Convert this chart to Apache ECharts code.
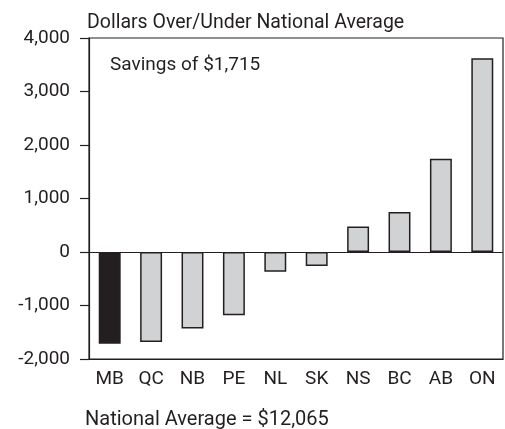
<!DOCTYPE html>
<html>
<head>
<meta charset="utf-8">
<script src="https://cdn.jsdelivr.net/npm/echarts@6/dist/echarts.min.js"></script>
<style>
  html, body { margin: 0; padding: 0; background: #fff; }
  #chart { width: 505px; height: 429px; }
</style>
</head>
<body>
<div id="chart"></div>
<script>
// provinces, sorted by difference from the national average
var provinces = ['MB', 'QC', 'NB', 'PE', 'NL', 'SK', 'NS', 'BC', 'AB', 'ON']
var diffValues = [-1715, -1680, -1430, -1180, -370, -260, 475, 750, 1745, 3620]
var highlight = 'MB'
var yTicks = [-2000, -1000, 0, 1000, 2000, 3000, 4000]

var FONT = 'Roboto, sans-serif'
var INK = '#231f20'

var chart = echarts.init(document.getElementById('chart'), null, { renderer: 'canvas' })

chart.setOption({
  animation: false,
  textStyle: { fontFamily: FONT, color: INK },
  title: [{
    text: 'Dollars Over/Under National Average',
    left: 82, top: 8,
    textStyle: { fontFamily: FONT, fontSize: 19.5, fontWeight: 'normal', color: INK }
  }, {
    text: 'Savings of $1,715',
    left: 105, top: 51,
    textStyle: { fontFamily: FONT, fontSize: 19, fontWeight: 'normal', color: INK }
  }, {
    text: 'National Average = $12,065',
    left: 80, top: 405,
    textStyle: { fontFamily: FONT, fontSize: 20, fontWeight: 'normal', color: INK }
  }],
  grid: {
    left: 89, right: 2, top: 38, bottom: 70,
    show: true, borderColor: INK, borderWidth: 1.2, backgroundColor: 'transparent'
  },
  xAxis: {
    type: 'category',
    data: provinces,
    axisLine: { show: true, onZero: false, lineStyle: { color: INK, width: 1.2 } },
    axisTick: { show: false },
    axisLabel: { fontFamily: FONT, fontSize: 19, color: INK, margin: 11 }
  },
  yAxis: {
    type: 'value',
    min: yTicks[0],
    max: yTicks[yTicks.length - 1],
    interval: 1000,
    axisLine: { show: true, lineStyle: { color: INK, width: 1.2 } },
    axisTick: { show: true, length: 9, lineStyle: { color: INK, width: 1.2 } },
    splitLine: { show: false },
    axisLabel: {
      fontFamily: FONT, fontSize: 19, color: INK, margin: 19,
      formatter: function (v) { return v.toLocaleString('en-US') }
    }
  },
  series: [{
    type: 'bar',
    barWidth: '53%',
    data: diffValues.map(function (v, i) {
      return {
        value: v,
        itemStyle: { color: provinces[i] === highlight ? INK : '#d1d2d4' }
      }
    }),
    itemStyle: { borderColor: INK, borderWidth: 1.5 },
    markLine: {
      silent: true,
      symbol: 'none',
      label: { show: false },
      lineStyle: { color: INK, width: 1.2, type: 'solid' },
      data: [{ yAxis: 0 }]
    }
  }]
})
</script>
</body>
</html>
